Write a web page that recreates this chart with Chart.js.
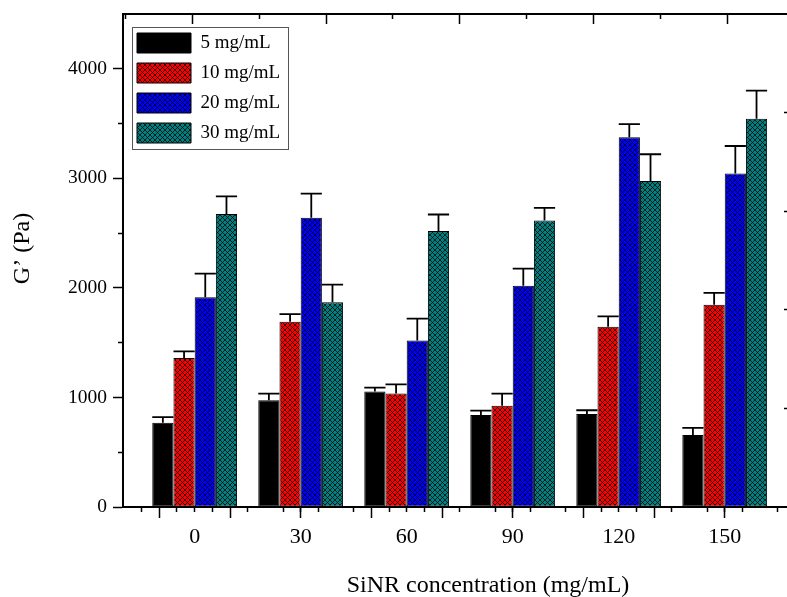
<!DOCTYPE html>
<html>
<head>
<meta charset="utf-8">
<script src="https://cdn.jsdelivr.net/npm/chart.js@4.4.1/dist/chart.umd.min.js"></script>
<style>
html,body{margin:0;padding:0;background:#fff;overflow:hidden;}
#wrap{width:787px;height:597px;overflow:hidden;position:relative;background:#fff;}
canvas{display:block;}
</style>
</head>
<body>
<div id="wrap"><canvas id="c" width="853" height="597" style="width:853px;height:597px"></canvas></div>
<script>
// ---- data ----
const categories = [0, 30, 60, 90, 120, 150];
const seriesNames = ['5 mg/mL', '10 mg/mL', '20 mg/mL', '30 mg/mL'];
const g5  = [770, 975, 1055, 840, 848, 657];
const g10 = [1360, 1690, 1035, 925, 1645, 1845];
const g20 = [1915, 2640, 1520, 2020, 3375, 3045];
const g30 = [2675, 1870, 2520, 2615, 2975, 3545];
const e5  = [50, 60, 35, 40, 35, 65];
const e10 = [60, 70, 85, 110, 95, 110];
const e20 = [215, 220, 200, 155, 120, 250];
const e30 = [160, 160, 150, 115, 245, 255];
// ---- tick positions ----
const yTickValues = [0, 1000, 2000, 3000, 4000];
const yMinorTickValues = [500, 1500, 2500, 3500];
const xMinorTickValues = [-20, -10, 0, 10, 20, 30, 40, 50, 60, 70, 80, 90, 100, 110, 120, 130, 140, 150, 160, 170, 180];
const xMajorTickValues = [-20, 0, 20, 40, 60, 80, 100, 120, 140, 160, 180];
const topMajorTickValues = [1, 3, 5, 7, 9];
const topMinorTickValues = [0, 2, 4, 6, 8];
const rightTickValues = [1, 2, 3, 4];

Chart.defaults.font.family = "'Liberation Serif', 'Times New Roman', serif";
Chart.defaults.color = '#000';

const canvas = document.getElementById('c');
const mainCtx = canvas.getContext('2d');

function hatch(color) {
  const p = 5;
  const t = document.createElement('canvas');
  t.width = p; t.height = p;
  const g = t.getContext('2d');
  g.fillStyle = color;
  g.fillRect(0, 0, p, p);
  g.strokeStyle = 'rgba(0,0,0,0.85)';
  g.lineWidth = 0.9;
  g.beginPath();
  for (const d of [-p, 0, p]) {
    g.moveTo(d, 0); g.lineTo(d + p, p);
    g.moveTo(d + p, 0); g.lineTo(d, p);
  }
  g.stroke();
  return mainCtx.createPattern(t, 'repeat');
}

const fills = ['#000000', hatch('#ff0000'), hatch('#0000ff'), hatch('#008080')];
const values = [g5, g10, g20, g30];
const errors = [e5, e10, e20, e30];

const datasets = seriesNames.map((name, k) => ({
  label: name,
  data: categories.map((c, i) => ({x: c, y: values[k][i]})),
  errors: errors[k],
  backgroundColor: fills[k],
  borderColor: '#000',
  borderWidth: 1,
  borderSkipped: false,
  categoryPercentage: 0.8,
  barPercentage: 1.0,
  xAxisID: 'x',
  yAxisID: 'y'
}));

const tickSetter = (arr) => (s) => { s.ticks = arr.map(v => ({value: v})); };
const zeroPad = (s) => { s.paddingTop = 0; s.paddingBottom = 0; s.paddingLeft = 0; s.paddingRight = 0; };

const X_MIN = -20.28, X_MAX = 186.3;

const errorBars = {
  id: 'errorBars',
  afterDatasetsDraw(chart) {
    const ctx = chart.ctx;
    const ys = chart.scales.y;
    ctx.save();
    ctx.strokeStyle = '#000';
    ctx.lineWidth = 1.8;
    chart.data.datasets.forEach((ds, di) => {
      const meta = chart.getDatasetMeta(di);
      meta.data.forEach((bar, i) => {
        const v = ds.data[i].y;
        const yTop = ys.getPixelForValue(v + ds.errors[i]);
        const half = bar.width / 2;
        ctx.beginPath();
        ctx.moveTo(bar.x, bar.y);
        ctx.lineTo(bar.x, yTop);
        ctx.moveTo(bar.x - half, yTop);
        ctx.lineTo(bar.x + half, yTop);
        ctx.stroke();
      });
    });
    // legend frame
    const lg = chart.legend;
    if (lg && lg.legendHitBoxes && lg.legendHitBoxes.length) {
      let l = Infinity, t = Infinity, r = -Infinity, b = -Infinity;
      lg.legendHitBoxes.forEach(h => {
        l = Math.min(l, h.left); t = Math.min(t, h.top);
        r = Math.max(r, h.left + h.width); b = Math.max(b, h.top + h.height);
      });
      ctx.strokeStyle = '#555';
      ctx.lineWidth = 1;
      ctx.strokeRect(Math.round(l - 5) + 0.5, Math.round(t - 6) + 0.5, Math.round(r - l + 13), Math.round(b - t + 12));
    }
    ctx.restore();
  }
};

const legendPlacer = {
  id: 'legendPlacer',
  afterLayout(chart) {
    const lg = chart.legend;
    if (lg) {
      lg.left = chart.chartArea.left + 4;
      lg.top = chart.chartArea.top + 9;
    }
  }
};

new Chart(canvas, {
  type: 'bar',
  data: {datasets},
  options: {
    responsive: false,
    animation: false,
    devicePixelRatio: 1,
    layout: {padding: 0},
    plugins: {
      tooltip: {enabled: false},
      legend: {
        position: 'chartArea',
        align: 'start',
        labels: {
          boxWidth: 54,
          boxHeight: 20,
          padding: 10,
          color: '#000',
          font: {size: 19}
        }
      }
    },
    scales: {
      x: {
        type: 'linear', position: 'bottom', weight: 2,
        min: X_MIN, max: X_MAX, offset: false,
        grid: {drawOnChartArea: false, offset: false, tickLength: 5, tickWidth: 1.5, tickColor: '#000'},
        border: {display: true, color: '#000', width: 2},
        ticks: {autoSkip: false, maxRotation: 0, padding: 12, color: '#000', font: {size: 22}, callback: v => String(v)},
        afterBuildTicks: tickSetter(categories),
        afterFit: s => { s.height = 90; zeroPad(s); },
        title: {display: true, text: 'SiNR concentration (mg/mL)', color: '#000', font: {size: 24, lineHeight: 0.9}, padding: {top: 0, bottom: 0}}
      },
      xMinor: {
        type: 'linear', position: 'bottom', weight: 0, axis: 'x',
        min: X_MIN, max: X_MAX, offset: false,
        grid: {drawOnChartArea: false, tickLength: 5, tickWidth: 1.5, tickColor: '#000'},
        border: {display: false},
        ticks: {display: false},
        afterBuildTicks: tickSetter(xMinorTickValues),
        afterFit: s => { s.height = 0; zeroPad(s); }
      },
      xMajor: {
        type: 'linear', position: 'bottom', weight: 1, axis: 'x',
        min: X_MIN, max: X_MAX, offset: false,
        grid: {drawOnChartArea: false, tickLength: 11, tickWidth: 1.5, tickColor: '#000'},
        border: {display: false},
        ticks: {display: false},
        afterBuildTicks: tickSetter(xMajorTickValues),
        afterFit: s => { s.height = 0; zeroPad(s); }
      },
      y: {
        type: 'linear', position: 'left', weight: 1,
        min: 0, max: 4500,
        grid: {drawOnChartArea: false, tickLength: 10, tickWidth: 1.5, tickColor: '#000'},
        border: {display: true, color: '#000', width: 2},
        ticks: {padding: 6, color: '#000', font: {size: 19.5}, callback: v => String(v)},
        afterBuildTicks: tickSetter(yTickValues),
        afterFit: s => { s.width = 123; zeroPad(s); },
        title: {display: true, text: '\u2003G\u2019 (Pa)', color: '#000', font: {size: 24, lineHeight: 0.9}, padding: {top: 12, bottom: 0}}
      },
      yMinor: {
        type: 'linear', position: 'left', weight: 0, axis: 'y',
        min: 0, max: 4500,
        grid: {drawOnChartArea: false, tickLength: 5, tickWidth: 1.5, tickColor: '#000'},
        border: {display: false},
        ticks: {display: false},
        afterBuildTicks: tickSetter(yMinorTickValues),
        afterFit: s => { s.width = 0; zeroPad(s); }
      },
      xTop: {
        type: 'linear', position: 'top', weight: 1, axis: 'x',
        min: -1.03, max: 9.866, offset: false,
        grid: {drawOnChartArea: false, tickLength: -10, tickWidth: 1.5, tickColor: '#000'},
        border: {display: true, color: '#000', width: 2},
        ticks: {display: false},
        afterBuildTicks: tickSetter(topMajorTickValues),
        afterFit: s => { s.height = 14; zeroPad(s); }
      },
      xTopMinor: {
        type: 'linear', position: 'top', weight: 0, axis: 'x',
        min: -1.03, max: 9.866, offset: false,
        grid: {drawOnChartArea: false, tickLength: -5, tickWidth: 1.5, tickColor: '#000'},
        border: {display: false},
        ticks: {display: false},
        afterBuildTicks: tickSetter(topMinorTickValues),
        afterFit: s => { s.height = 0; zeroPad(s); }
      },
      yRight: {
        type: 'linear', axis: 'y', position: {x: 167.9},
        min: 0, max: 5,
        grid: {drawOnChartArea: false, tickLength: 4, tickWidth: 1.5, tickColor: '#000'},
        border: {display: false},
        ticks: {display: false},
        afterBuildTicks: tickSetter(rightTickValues),
        afterFit: s => { zeroPad(s); }
      }
    }
  },
  plugins: [legendPlacer, errorBars]
});
</script>
</body>
</html>
